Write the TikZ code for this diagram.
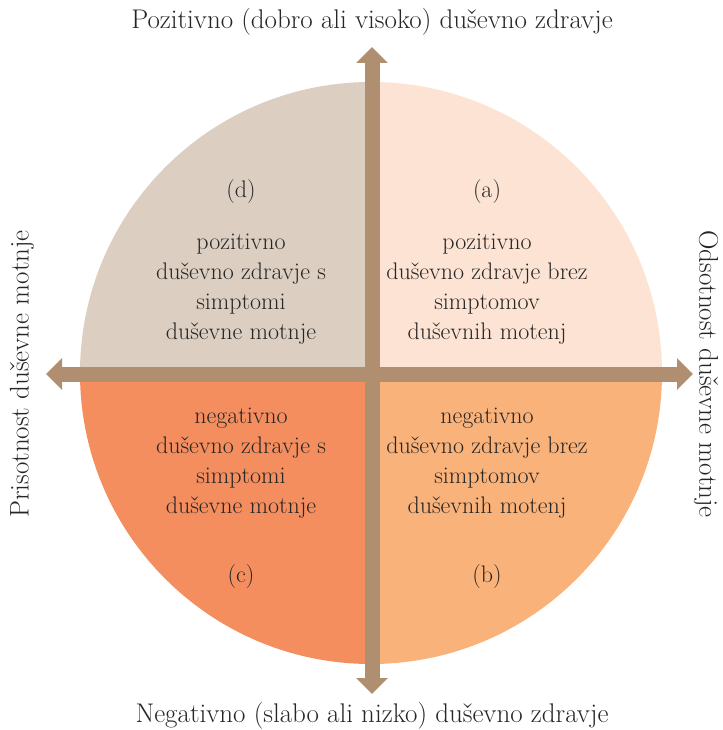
\documentclass[tikz,border=0pt]{standalone}
\usepackage{xcolor}
\usetikzlibrary{arrows.meta, positioning}

\definecolor{kvadd}{HTML}{DCCFC2}
\definecolor{kvada}{HTML}{FDE3D3}
\definecolor{kvadc}{HTML}{F58E5F}
\definecolor{kvadb}{HTML}{F9B27A}
\definecolor{os}{HTML}{B08E70}
\definecolor{besedilo}{HTML}{262626}

\begin{document}
\begin{tikzpicture}[x=1pt, y=-1pt]
        % --- estilos ---
        \tikzstyle{oznaka} = [
            text=besedilo,
            font=\fontsize{27}{32}\selectfont,
            inner sep=0pt
        ]
        \tikzstyle{opis} = [
            text=besedilo,
            font=\fontsize{24}{30}\selectfont,
            align=center,
            inner sep=0pt
        ]
        \tikzstyle{crka} = [
            text=besedilo,
            font=\fontsize{24}{28}\selectfont,
            inner sep=0pt
        ]
        \tikzstyle{puscica} = [
            draw=os,
            line width=15pt,
            {Triangle[width=31pt,length=16pt]}-{Triangle[width=31pt,length=16pt]}
        ]

        \useasboundingbox (0,0) rectangle (722,730);

        % --- krog (kvadranti) ---
        \begin{scope}
            \clip (371,373) circle (291);
            \fill[kvadd] (60,60) rectangle (372,374);
            \fill[kvada] (372,60) rectangle (690,374);
            \fill[kvadc] (60,374) rectangle (372,690);
            \fill[kvadb] (372,374) rectangle (690,690);
        \end{scope}

        % --- osi ---
        \coordinate (levo) at (46,374);
        \coordinate (desno) at (693,374);
        \coordinate (gor) at (372,47);
        \coordinate (dol) at (372,694);
        \draw [puscica] (levo) -- (desno);
        \draw [puscica] (gor) -- (dol);

        % --- oznake osi ---
        \node (pozitivno) [oznaka] at (372,22) {Pozitivno (dobro ali visoko) duševno zdravje};
        \node (negativno) [oznaka] at (372,716) {Negativno (slabo ali nizko) duševno zdravje};
        \node (prisotnost) [oznaka, rotate=90] at (22,374) {Prisotnost duševne motnje};
        \node (odsotnost) [oznaka, rotate=-90] at (706,374) {Odsotnost duševne motnje};

        % --- kvadranti ---
        \node (d) [crka] at (241,192) {(d)};
        \node (a) [crka] at (487,192) {(a)};
        \node (c) [crka] at (241,577) {(c)};
        \node (b) [crka] at (487,577) {(b)};

        \node (opisd) [opis] at (241,289) {pozitivno\\duševno zdravje s\\simptomi\\duševne motnje};
        \node (opisa) [opis] at (487,289) {pozitivno\\duševno zdravje brez\\simptomov\\duševnih motenj};
        \node (opisc) [opis] at (241,463) {negativno\\duševno zdravje s\\simptomi\\duševne motnje};
        \node (opisb) [opis] at (487,463) {negativno\\duševno zdravje brez\\simptomov\\duševnih motenj};
    \end{tikzpicture}
\end{document}
